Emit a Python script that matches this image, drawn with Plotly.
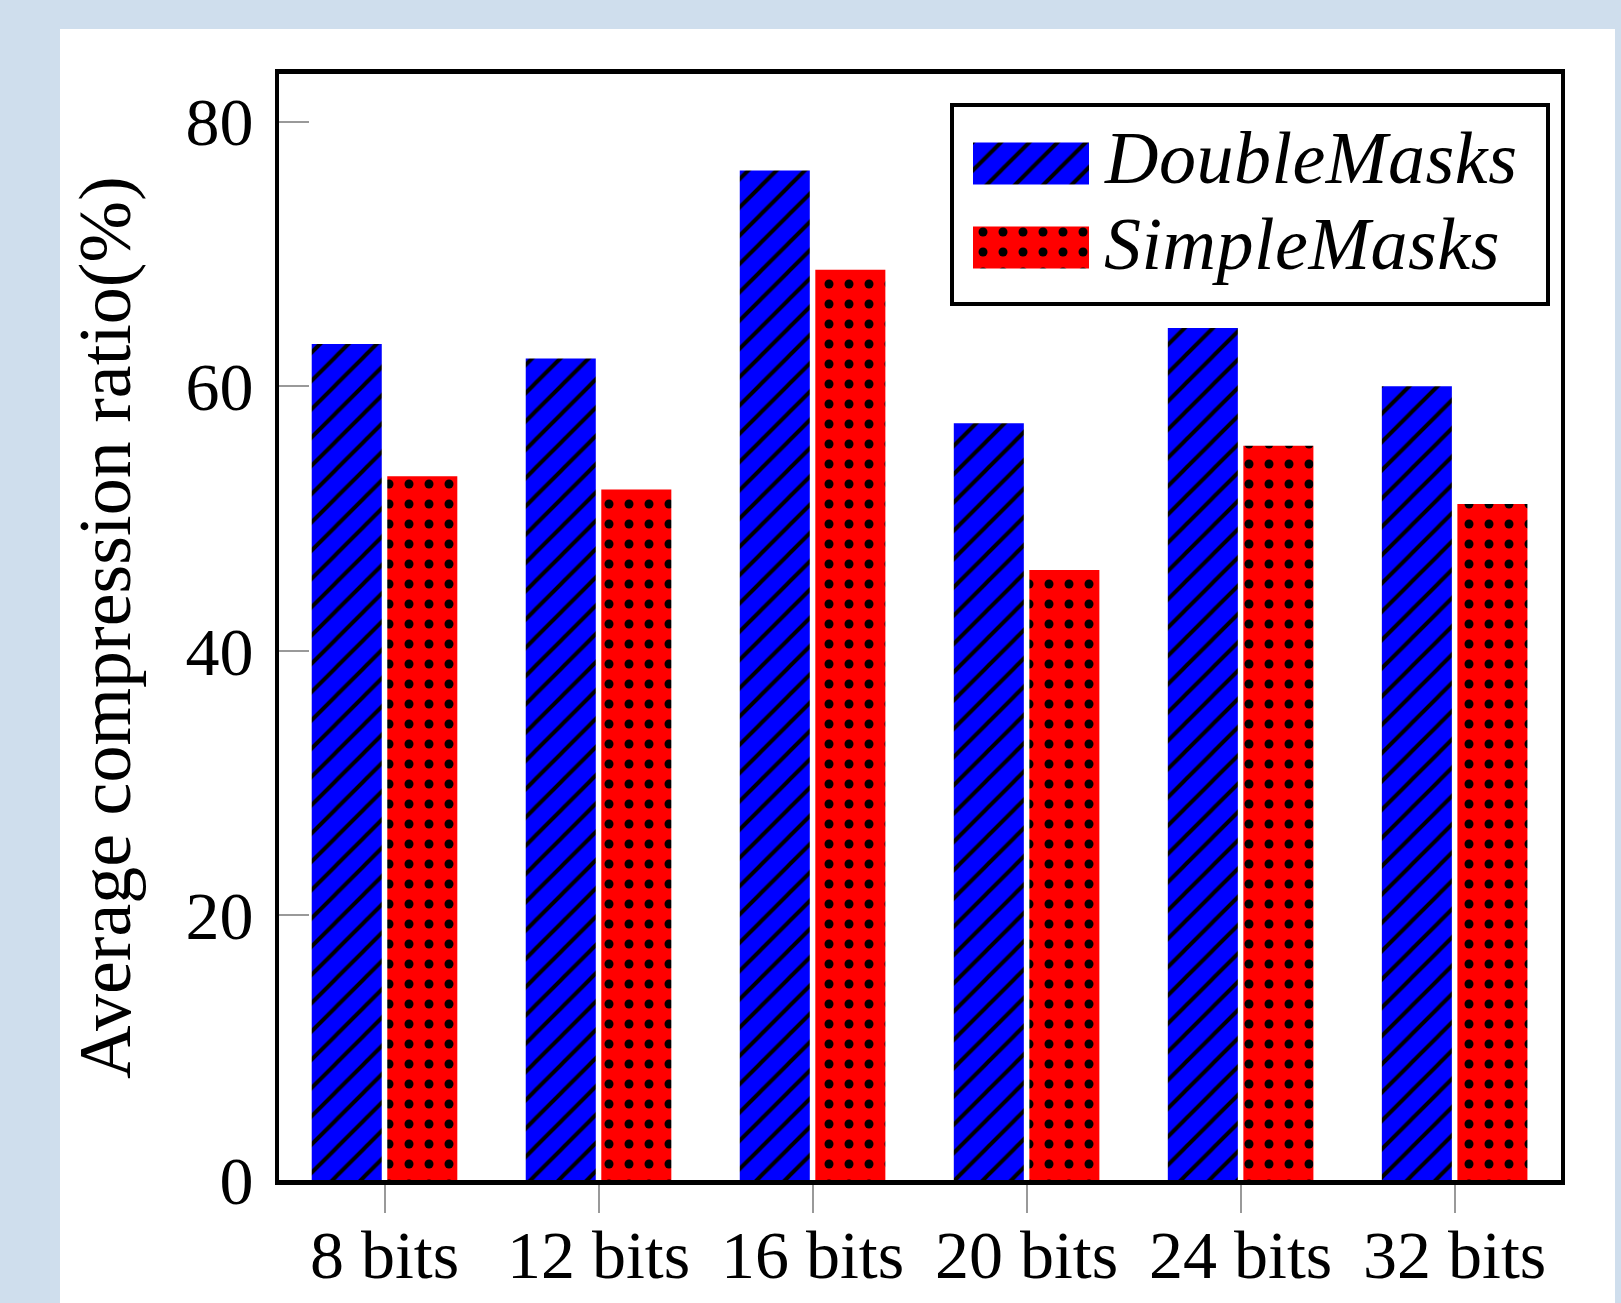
import plotly.graph_objects as go

categories = ["8 bits", "12 bits", "16 bits", "20 bits", "24 bits", "32 bits"]
double_masks = [63.2, 62.1, 76.3, 57.2, 64.4, 60.0]
simple_masks = [53.2, 52.2, 68.8, 46.1, 55.5, 51.1]
series_names = ["DoubleMasks", "SimpleMasks"]
y_ticks = [0, 20, 40, 60, 80]
y_title = "Average compression ratio(%)"

W, H = 1621, 1303
L, R, T, B = 279, 60, 74, 123
pw, ph = W - L - R, H - T - B


def px(x):
    return (x - L) / pw


def py(y):
    return (H - B - y) / ph


BLUE = "#0000ff"
RED = "#ff0000"
BG = "#cfdeed"
SERIF = "Liberation Serif"
HATCH = dict(shape="/", fgcolor="black", size=20, solidity=0.2, fgopacity=1)
DOTS = dict(shape=".", fgcolor="black", size=20, solidity=0.16, fgopacity=1)

fig = go.Figure()
fig.add_trace(go.Bar(
    x=categories, y=double_masks, name=series_names[0],
    marker=dict(color=BLUE, line=dict(width=0), pattern=HATCH),
    showlegend=False,
))
fig.add_trace(go.Bar(
    x=categories, y=simple_masks, name=series_names[1],
    marker=dict(color=RED, line=dict(width=0), pattern=DOTS),
    showlegend=False,
))

# legend swatches drawn in a small hidden subplot
for pos, col, pat, name in zip([1, 0], [BLUE, RED], [HATCH, DOTS], series_names):
    fig.add_trace(go.Bar(
        x=[1], y=[pos], orientation="h", width=0.5, offset=-0.25,
        marker=dict(color=col, line=dict(width=0), pattern=pat),
        xaxis="x2", yaxis="y2", showlegend=False, hoverinfo="skip", name=name,
    ))

fig.update_layout(
    width=W, height=H,
    margin=dict(l=L, r=R, t=T, b=B, autoexpand=False),
    paper_bgcolor=BG,
    plot_bgcolor="white",
    barmode="group",
    bargap=0.294,
    bargroupgap=0.073,
    showlegend=False,
    font=dict(family=SERIF, color="black", size=68),
    xaxis=dict(
        range=[-0.493, 5.497],
        showline=True, linecolor="black", linewidth=5, mirror=True,
        ticks="outside", ticklen=28, tickcolor="#999999", tickwidth=1.5,
        tickfont=dict(family=SERIF, size=68, color="black"),
        ticklabelstandoff=-17, automargin=False,
        showgrid=False, zeroline=False,
    ),
    yaxis=dict(
        range=[0, 83.6],
        tickvals=y_ticks,
        showline=True, linecolor="black", linewidth=4, mirror=True,
        ticks="inside", ticklen=30, tickcolor="#999999", tickwidth=1.5,
        tickfont=dict(family=SERIF, size=68, color="black"),
        ticklabelstandoff=8, automargin=False,
        showgrid=False, zeroline=False,
    ),
    xaxis2=dict(domain=[px(973), px(1089)], anchor="y2", range=[0, 1],
                visible=False, fixedrange=True, automargin=False),
    yaxis2=dict(domain=[py(269), py(142)], anchor="x2", range=[-0.256, 1.256],
                visible=False, fixedrange=True, automargin=False),
)

# white panel behind the plot
fig.add_shape(type="rect", xref="paper", yref="paper",
              x0=px(60), x1=px(1615), y0=py(1320), y1=py(29),
              fillcolor="white", line=dict(width=0), layer="below")

# legend frame
fig.add_shape(type="rect", xref="paper", yref="paper",
              x0=px(952), x1=px(1548), y0=py(304), y1=py(105),
              fillcolor="rgba(0,0,0,0)", line=dict(color="black", width=4),
              layer="above")

for name, ycen in zip(series_names, [158, 244]):
    fig.add_annotation(
        x=px(1102), y=py(ycen), xref="paper", yref="paper",
        xanchor="left", yanchor="middle", showarrow=False,
        text=f'<span style="letter-spacing:0.5px"><i>{name}</i></span>',
        font=dict(family=SERIF, size=74, color="black"),
    )

fig.add_annotation(
    x=px(105), y=py(628), xref="paper", yref="paper",
    xanchor="center", yanchor="middle", showarrow=False, textangle=-90,
    text=y_title, font=dict(family=SERIF, size=74, color="black"),
)

fig.write_html(
    "out.html",
    config={"displayModeBar": False},
    post_script=(
        f"document.body.style.margin='0';"
        f"document.body.style.background='{BG}';"
        "document.documentElement.style.overflow='hidden';"
    ),
)
